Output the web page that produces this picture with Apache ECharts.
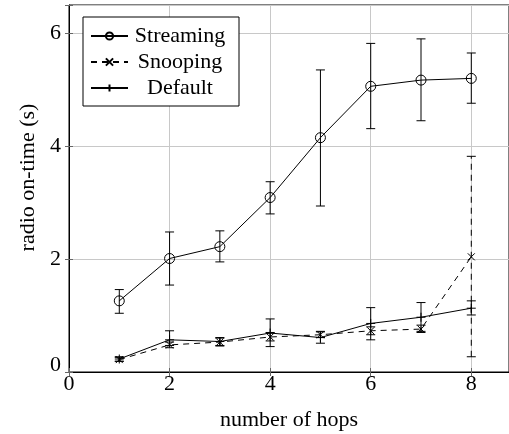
<!DOCTYPE html>
<html>
<head>
<meta charset="utf-8">
<script src="https://cdn.jsdelivr.net/npm/echarts@6/dist/echarts.min.js"></script>
<style>
  html, body { margin: 0; padding: 0; background: #fff; }
  #chart { width: 509px; height: 434px; }
</style>
</head>
<body>
<div id="chart"></div>
<script>
// Radio on-time against hop count, mean with min/max error bars
const hops = [1, 2, 3, 4, 5, 6, 7, 8];

const streaming     = [1.26, 2.01, 2.22, 3.09, 4.15, 5.06, 5.17, 5.20];
const streamingLow  = [1.04, 1.54, 1.95, 2.80, 2.94, 4.31, 4.45, 4.76];
const streamingHigh = [1.46, 2.48, 2.50, 3.37, 5.35, 5.82, 5.90, 5.65];

const snooping      = [0.22, 0.48, 0.53, 0.62, 0.66, 0.73, 0.76, 2.04];
const snoopingLow   = [0.19, 0.43, 0.47, 0.55, 0.61, 0.66, 0.70, 0.27];
const snoopingHigh  = [0.26, 0.53, 0.60, 0.70, 0.72, 0.80, 0.83, 3.82];

const defaults      = [0.23, 0.57, 0.54, 0.69, 0.61, 0.86, 0.97, 1.13];
const defaultsLow   = [0.19, 0.47, 0.46, 0.45, 0.51, 0.57, 0.72, 1.01];
const defaultsHigh  = [0.27, 0.73, 0.61, 0.94, 0.71, 1.14, 1.23, 1.26];

const xTicks = [0, 2, 4, 6, 8];
const yTicks = [0, 2, 4, 6];

const FONT = '"Liberation Serif", "DejaVu Serif", serif';
const FS = 22;

const pts = (ys) => hops.map((x, i) => [x, ys[i]]);
const bars = (lo, hi) => hops.map((x, i) => [x, lo[i], hi[i]]);

function errorBarSeries(name, lo, hi, dashed) {
  return {
    name: name,
    type: 'custom',
    data: bars(lo, hi),
    z: 3,
    silent: true,
    clip: false,
    encode: { x: 0, y: [1, 2] },
    renderItem: function (params, api) {
      const x = api.value(0);
      const a = api.coord([x, api.value(1)]);
      const b = api.coord([x, api.value(2)]);
      const cap = 4.5;
      const style = { stroke: '#000', lineWidth: 1, lineDash: dashed ? [6, 5] : null };
      return {
        type: 'group',
        children: [
          { type: 'line', shape: { x1: a[0], y1: a[1], x2: b[0], y2: b[1] }, style: style },
          { type: 'line', shape: { x1: a[0] - cap, y1: a[1], x2: a[0] + cap, y2: a[1] }, style: { stroke: '#000', lineWidth: 1 } },
          { type: 'line', shape: { x1: b[0] - cap, y1: b[1], x2: b[0] + cap, y2: b[1] }, style: { stroke: '#000', lineWidth: 1 } }
        ]
      };
    }
  };
}

const crossMark = 'path://M0,0L10,10M10,0L0,10';
const plusMark = 'path://M5,0L5,10M0,5L10,5';

const chart = echarts.init(document.getElementById('chart'), null, { renderer: 'canvas' });

chart.setOption({
  animation: false,
  backgroundColor: '#fff',
  textStyle: { fontFamily: FONT },
  grid: {
    left: 69, right: 0, top: 5, bottom: 62,
    containLabel: false,
    outerBoundsMode: 'none',
    show: true, borderColor: '#000', borderWidth: 1
  },
  xAxis: [{
    type: 'value',
    min: 0, max: 8.75, interval: 2,
    name: 'number of hops',
    nameLocation: 'middle',
    nameGap: 37,
    nameTextStyle: { fontFamily: FONT, fontSize: FS, color: '#000' },
    axisLine: { show: true, onZero: false, lineStyle: { color: '#000', width: 1 } },
    axisTick: { show: true, inside: true, length: 4, lineStyle: { color: '#666' } },
    axisLabel: {
      margin: 1, fontFamily: FONT, fontSize: FS, color: '#000',
      customValues: xTicks
    },
    splitLine: { show: true, lineStyle: { color: '#c8c8c8', width: 1 } }
  }, {
    type: 'value',
    position: 'top',
    min: 0, max: 8.75, interval: 2,
    axisLine: { show: false },
    axisTick: { show: true, inside: true, length: 4, lineStyle: { color: '#666' } },
    axisLabel: { show: false },
    splitLine: { show: false }
  }],
  yAxis: [{
    type: 'value',
    min: 0, max: 6.5, interval: 2,
    name: 'radio on-time (s)',
    nameLocation: 'middle',
    nameGap: 29,
    nameTextStyle: { fontFamily: FONT, fontSize: FS, color: '#000', padding: [0, 0, 0, 22] },
    axisLine: { show: true, onZero: false, lineStyle: { color: '#000', width: 1 } },
    axisTick: { show: true, inside: true, length: 4, lineStyle: { color: '#666' } },
    axisLabel: {
      margin: 8, fontFamily: FONT, fontSize: FS, color: '#000',
      customValues: yTicks,
      formatter: function (v) { return v === 0 ? '{z|0}' : String(v); },
      rich: { z: { fontFamily: FONT, fontSize: FS, color: '#000', padding: [0, 0, 14, 0] } }
    },
    splitLine: { show: true, lineStyle: { color: '#c8c8c8', width: 1 } }
  }, {
    type: 'value',
    position: 'right',
    min: 0, max: 6.5, interval: 2,
    axisLine: { show: false },
    axisTick: { show: true, inside: true, length: 4, lineStyle: { color: '#666' } },
    axisLabel: { show: false },
    splitLine: { show: false }
  }],
  legend: {
    orient: 'vertical',
    left: 83, top: 17,
    padding: [8, 12, 7, 7],
    itemGap: 4,
    itemWidth: 37,
    itemHeight: 9,
    borderColor: '#000',
    borderWidth: 1,
    backgroundColor: '#fff',
    data: ['Streaming', 'Snooping', 'Default'],
    formatter: '{c|{name}}',
    textStyle: {
      fontFamily: FONT, fontSize: FS, color: '#000',
      rich: { c: { fontFamily: FONT, fontSize: FS, color: '#000', width: 94, align: 'center', lineHeight: 22 } }
    }
  },
  series: [
    {
      name: 'Streaming',
      type: 'line',
      data: pts(streaming),
      symbol: 'circle',
      symbolSize: 10,
      z: 4,
      lineStyle: { color: '#000', width: 1 },
      itemStyle: { color: 'rgba(0,0,0,0)', borderColor: '#000', borderWidth: 1 }
    },
    {
      name: 'Snooping',
      type: 'line',
      data: pts(snooping),
      symbol: crossMark,
      symbolSize: 7,
      z: 4,
      lineStyle: { color: '#000', width: 1, type: [6, 5] },
      itemStyle: { color: 'none', borderColor: '#000', borderWidth: 1 }
    },
    {
      name: 'Default',
      type: 'line',
      data: pts(defaults),
      symbol: plusMark,
      symbolSize: 9,
      z: 4,
      lineStyle: { color: '#000', width: 1 },
      itemStyle: { color: 'none', borderColor: '#000', borderWidth: 1 }
    },
    errorBarSeries('Streaming', streamingLow, streamingHigh, false),
    errorBarSeries('Snooping', snoopingLow, snoopingHigh, true),
    errorBarSeries('Default', defaultsLow, defaultsHigh, false)
  ]
});
</script>
</body>
</html>
